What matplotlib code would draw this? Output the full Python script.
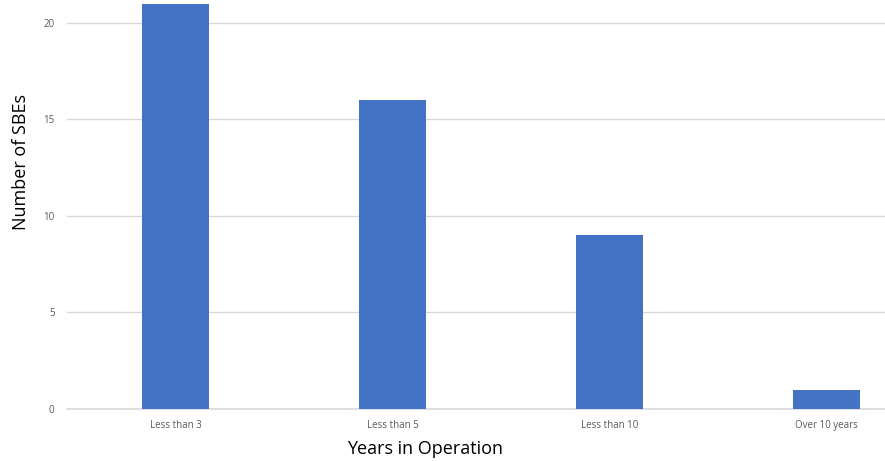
import matplotlib
matplotlib.use('Agg')
import matplotlib.pyplot as plt

categories = ['Less than 3', 'Less than 5', 'Less than 10', 'Over 10 years']
counts = [21, 16, 9, 1]
y_ticks = [0, 5, 10, 15, 20]

BAR_COLOR = '#4472C4'
TEXT_GRAY = '#595959'

plt.rcParams['font.family'] = ['Open Sans', 'DejaVu Sans']

fig = plt.figure(figsize=(8.85, 4.61), dpi=100)
ax = fig.add_axes([67 / 885, 1 - 409 / 461, 1 - 67 / 885, 409 / 461])

x = range(len(categories))
ax.bar(x, counts, width=0.31, color=BAR_COLOR, zorder=3)

ax.set_xlim(-0.5, 3.27)
ax.set_ylim(0, 21.19)
ax.set_yticks(y_ticks)
ax.set_xticks(list(x))
ax.set_xticklabels(categories)

ax.yaxis.grid(True, color='#D9D9D9', linewidth=1, zorder=0)
for side in ['top', 'right', 'left']:
    ax.spines[side].set_visible(False)
ax.spines['bottom'].set_color('#D9D9D9')
ax.spines['bottom'].set_linewidth(1.2)

ax.tick_params(axis='both', length=0, labelsize=7, labelcolor=TEXT_GRAY)
ax.tick_params(axis='y', pad=9)
ax.tick_params(axis='x', pad=8)

# axis titles placed in figure coordinates
fig.text(21 / 885, 1 - 162 / 461, 'Number of SBEs', fontsize=13,
         rotation=90, ha='center', va='center', color='black')
fig.text(425 / 885, 1 - 449 / 461, 'Years in Operation', fontsize=13,
         ha='center', va='center', color='black')

fig.savefig('out.png', dpi=100)
